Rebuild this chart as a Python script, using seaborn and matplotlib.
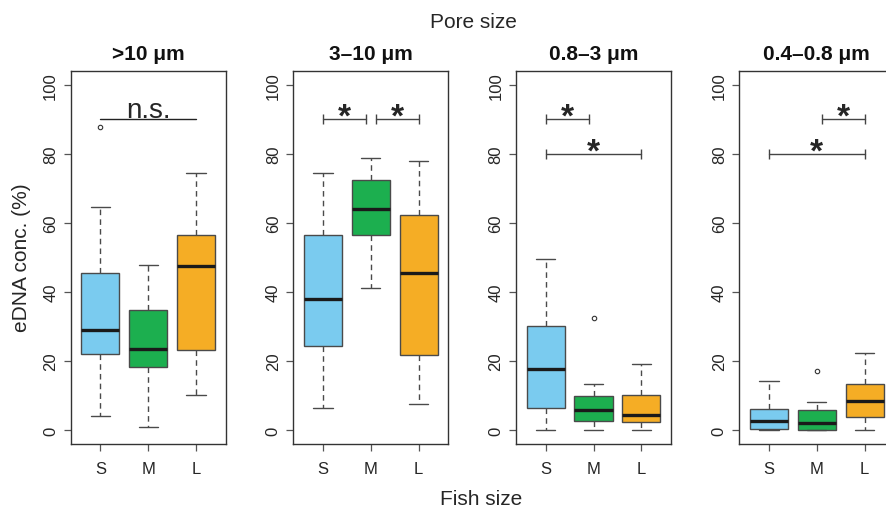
import numpy as np
import pandas as pd
import matplotlib; matplotlib.use("Agg")
import matplotlib.pyplot as plt
import seaborn as sns

# ── Data ───────────────────────────────────────────────────────────────────
fish_sizes = ["S", "M", "L"]
pore_sizes = [">10 μm", "3–10 μm", "0.8–3 μm", "0.4–0.8 μm"]
box_colors = ["#7ACBEF", "#1CAF4F", "#F5AD25"]

# five-number summaries, rows = pore size, cols = S, M, L
whisker_lo = [[4.0, 1.0, 10.3], [6.4, 41.1, 7.7], [0.0, 0.1, 0.0], [0.0, 0.0, 0.0]]
quart_lo   = [[22.0, 18.3, 23.2], [24.3, 56.4, 21.8], [6.3, 2.7, 2.5], [0.3, 0.1, 3.9]]
medians    = [[29.0, 23.5, 47.6], [37.9, 64.1, 45.4], [17.8, 5.9, 4.4], [2.6, 2.0, 8.5]]
quart_hi   = [[45.5, 34.9, 56.6], [56.5, 72.4, 62.2], [30.1, 9.9, 10.3], [6.2, 5.7, 13.5]]
whisker_hi = [[64.7, 47.9, 74.4], [74.6, 78.7, 77.9], [49.5, 13.5, 19.1], [14.3, 8.2, 22.4]]

outlier_pore = [0, 2, 3]
outlier_fish = ["S", "M", "M"]
outlier_val  = [87.9, 32.4, 17.0]

# significance brackets
bracket_pore = [0, 1, 1, 2, 2, 3, 3]
bracket_from = ["S", "S", "M", "S", "S", "M", "S"]
bracket_to   = ["L", "M", "L", "M", "L", "L", "L"]
bracket_y    = [90, 90, 90, 90, 80, 90, 80]
bracket_lab  = ["n.s.", "*", "*", "*", "*", "*", "*"]

# ── Style ──────────────────────────────────────────────────────────────────
sns.set_style("ticks")
plt.rcParams["font.family"] = ["Liberation Sans", "DejaVu Sans"]
plt.rcParams["axes.edgecolor"] = "#333333"
plt.rcParams["axes.linewidth"] = 1.0

W, H = 887, 510
fig = plt.figure(figsize=(W / 100, H / 100), dpi=100)
lefts = [70.7, 293.3, 516.0, 739.3]
txt = "#262626"

for p, pore in enumerate(pore_sizes):
    ax = fig.add_axes([lefts[p] / W, 65 / H, 155 / W, 373 / H])

    # each box built from its five-number summary (whiskers = min/max)
    rows = []
    for f, fs in enumerate(fish_sizes):
        for v in (whisker_lo[p][f], quart_lo[p][f], medians[p][f],
                  quart_hi[p][f], whisker_hi[p][f]):
            rows.append({"fish": fs, "conc": v})
    df = pd.DataFrame(rows)

    sns.boxplot(data=df, x="fish", y="conc", hue="fish",
                order=fish_sizes, hue_order=fish_sizes, palette=box_colors,
                saturation=1, whis=(0, 100), width=0.8, showfliers=False,
                linecolor="#4a4a4a", linewidth=1.0, legend=False,
                medianprops=dict(color="#1a1a1a", linewidth=2.4),
                whiskerprops=dict(linestyle=(0, (4, 3))),
                ax=ax)

    out = pd.DataFrame({"fish": [f for q, f in zip(outlier_pore, outlier_fish) if q == p],
                        "conc": [v for q, v in zip(outlier_pore, outlier_val) if q == p]})
    if len(out):
        sns.stripplot(data=out, x="fish", y="conc", order=fish_sizes,
                      jitter=False, color="white", edgecolor="#333333",
                      linewidth=0.8, size=3.2, ax=ax)

    # significance brackets
    for q, a, b, y, lab in zip(bracket_pore, bracket_from, bracket_to,
                               bracket_y, bracket_lab):
        if q != p:
            continue
        x1, x2 = fish_sizes.index(a), fish_sizes.index(b)
        if a == "M":
            x1 += 0.1
        if b == "M":
            x2 -= 0.1
        if lab == "n.s.":
            ax.plot([x1, x2], [y, y], color="#222222", lw=1.0)
            ax.text((x1 + x2) / 2, y + 0.8, lab, ha="center", va="baseline",
                    fontsize=20, color=txt)
        else:
            ax.plot([x1, x2], [y, y], color="#444444", lw=1.0,
                    marker="|", markersize=7, markeredgewidth=1.0)
            ax.text((x1 + x2) / 2, y - 1.8, lab, ha="center", va="baseline",
                    fontsize=24, fontweight="bold", color=txt)

    ax.set_xlim(-0.62, 2.62)
    ax.set_ylim(-4, 104)
    ax.set_yticks(np.arange(0, 101, 20))
    ax.set_xlabel("")
    ax.set_ylabel("")
    ax.set_title(pore, fontsize=15, fontweight="bold", pad=9, color="#111111")
    ax.tick_params(axis="both", length=5, width=0.9, color="#555555",
                   labelsize=12, labelcolor=txt)
    ax.tick_params(axis="x", pad=7)
    ax.tick_params(axis="y", labelrotation=90, pad=4)
    for lbl in ax.get_yticklabels():
        lbl.set_va("center")
    for sp in ax.spines.values():
        sp.set_visible(True)

fig.text(473 / W, 1 - 28 / H, "Pore size", ha="center", va="baseline",
         fontsize=15, color=txt)
fig.text(481 / W, 1 - 505 / H, "Fish size", ha="center", va="baseline",
         fontsize=15, color=txt)
fig.text(22 / W, (H - 258) / H, "eDNA conc. (%)", rotation=90,
         ha="center", va="center", fontsize=15, color=txt)

fig.savefig("out.png", dpi=100)
plt.close(fig)
